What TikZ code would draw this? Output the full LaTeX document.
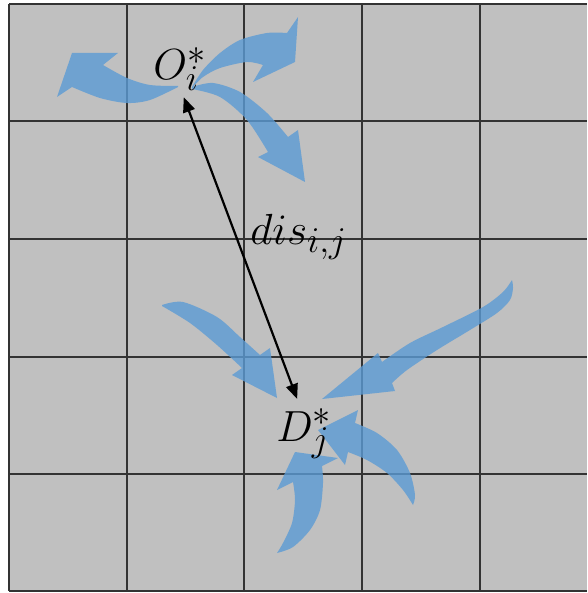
\documentclass[tikz,border=0pt]{standalone}
\usetikzlibrary{arrows.meta}
\definecolor{cellgray}{RGB}{192,192,192}
\definecolor{flowblue}{RGB}{91,155,213}

\begin{document}
\begin{tikzpicture}[x=1pt,y=-1pt,
  gridline/.style={draw=black!80, line width=2pt},
  flow/.style={fill=flowblue, fill opacity=0.8},
  lbl/.style={inner sep=0pt, anchor=base west, font=\Huge, scale=1.75},
  link/.style={{Triangle[length=15pt,width=12pt]}-{Triangle[length=15pt,width=12pt]}, line width=2.2pt}]
\useasboundingbox (0,0) rectangle (587,593);
\fill[cellgray] (9,4) rectangle (587,591);
\foreach \x in {9,126.5,244,362,480} \draw[gridline] (\x,4) -- (\x,591);
\foreach \y in {4,121.5,239,356.5,474,591} \draw[gridline] (9,\y) -- (587,\y);
\fill[flow] plot[smooth] coordinates {(178,86) (150,85) (127,78) (103,65)} -- (118,53) -- (72,53) -- (57,97) -- (72,87) -- plot[smooth] coordinates {(72,87) (100,98) (127,103) (150,100) (178,87)} -- cycle;
\fill[flow] plot[smooth] coordinates {(192,87) (203,70) (220,53) (240,40) (267,33) (287,33)} -- (298,17) -- (295,62) -- (253,82) -- (263,65) -- plot[smooth] coordinates {(263,65) (247,62) (220,68) (203,77) (192,88)} -- cycle;
\fill[flow] plot[smooth] coordinates {(192,87) (213,83) (240,92) (267,113) (288,137)} -- (298,130) -- (305,182) -- (258,157) -- (268,152) -- plot[smooth] coordinates {(268,152) (247,120) (220,97) (192,89)} -- cycle;
\fill[flow] plot[smooth] coordinates {(162,305) (183,302) (217,317) (240,337) (260,355)} -- (270,348) -- (277,398) -- (232,375) -- (242,368) -- plot[smooth] coordinates {(242,368) (217,345) (190,323) (162,306)} -- cycle;
\fill[flow] plot[smooth] coordinates {(512,280) (503,292) (483,307) (443,327) (410,343) (382,362)} -- (378,353) -- (322,399) -- (395,391) -- (392,383) -- plot[smooth] coordinates {(392,383) (407,370) (437,350) (470,330) (497,313) (510,300) (513,288) (512,280)} -- cycle;
\fill[flow] plot[smooth] coordinates {(413,505) (415,495) (410,473) (397,450) (377,433) (355,423)} -- (358,410) -- (318,430) -- (345,465) -- (348,452) -- plot[smooth] coordinates {(348,452) (367,460) (387,473) (403,490) (413,505)} -- cycle;
\fill[flow] plot[smooth] coordinates {(277,553) (293,547) (310,530) (320,510) (323,483) (322,466)} -- (338,458) -- (295,452) -- (277,490) -- (293,482) -- plot[smooth] coordinates {(293,482) (295,500) (292,523) (283,543) (277,553)} -- cycle;
\node[lbl] (O) at (153,80) {$O_i^*$};
\node[lbl] (dis) at (250,244) {$dis_{i,j}$};
\node[lbl] (D) at (276,441) {$D_j^*$};
\draw[link] ([xshift=4pt,yshift=-6pt]O.south) -- ([xshift=-7pt,yshift=9pt]D.north);
\end{tikzpicture}
\end{document}
